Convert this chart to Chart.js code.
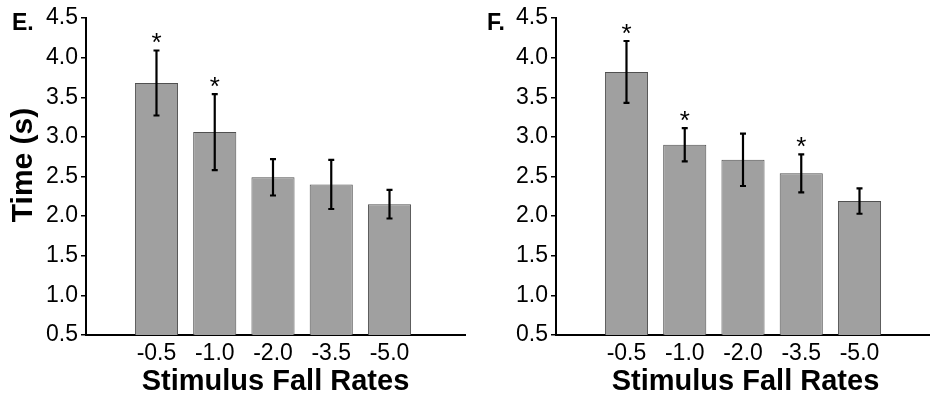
<!DOCTYPE html>
<html>
<head>
<meta charset="utf-8">
<script src="https://cdn.jsdelivr.net/npm/chart.js@4.4.1/dist/chart.umd.min.js"></script>
<style>
  body { margin: 0; background: #fff; }
  #wrap { position: relative; width: 930px; height: 399px; overflow: hidden; }
  .panel { position: absolute; top: 0; }
</style>
</head>
<body>
<div id="wrap">
  <div class="panel" style="left:0"><canvas id="chartE" width="470" height="399"></canvas></div>
  <div class="panel" style="left:470px"><canvas id="chartF" width="470" height="399"></canvas></div>
</div>
<script>
// categories and tick labels
var fallRates = ['-0.5', '-1.0', '-2.0', '-3.5', '-5.0'];
var yTickValues = [0.5, 1.0, 1.5, 2.0, 2.5, 3.0, 3.5, 4.0, 4.5];

// panel E
var meansE = [3.68, 3.06, 2.49, 2.40, 2.15];
var errE = [0.41, 0.48, 0.23, 0.31, 0.18];
var sigE = [true, true, false, false, false];

// panel F
var meansF = [3.82, 2.90, 2.71, 2.54, 2.19];
var errF = [0.39, 0.21, 0.33, 0.24, 0.16];
var sigF = [true, true, false, true, false];

var FONT = "'Liberation Sans', Arial, sans-serif";

// error bars + asterisks, drawn from the y scale
var errorBarPlugin = {
  id: 'errorBars',
  afterDatasetsDraw: function (chart, args, opts) {
    var ctx = chart.ctx;
    var y = chart.scales.y;
    var meta = chart.getDatasetMeta(0);
    var data = chart.data.datasets[0].data;
    ctx.save();
    ctx.strokeStyle = '#000';
    ctx.fillStyle = '#000';
    ctx.lineWidth = 2.2;
    meta.data.forEach(function (bar, i) {
      var top = y.getPixelForValue(data[i].y + opts.errs[i]);
      var bot = y.getPixelForValue(data[i].y - opts.errs[i]);
      ctx.beginPath();
      ctx.moveTo(bar.x, top);
      ctx.lineTo(bar.x, bot);
      ctx.moveTo(bar.x - 3, top);
      ctx.lineTo(bar.x + 3, top);
      ctx.moveTo(bar.x - 3, bot);
      ctx.lineTo(bar.x + 3, bot);
      ctx.stroke();
      if (opts.sig[i]) {
        ctx.font = '26px ' + FONT;
        ctx.textAlign = 'center';
        ctx.textBaseline = 'alphabetic';
        ctx.fillText('*', bar.x, top + 1);
      }
    });
    ctx.restore();
  }
};

// panel letter and rotated y title
var labelPlugin = {
  id: 'panelLabels',
  afterDraw: function (chart, args, opts) {
    var ctx = chart.ctx;
    ctx.save();
    ctx.fillStyle = '#000';
    ctx.font = 'bold 23px ' + FONT;
    ctx.textAlign = 'left';
    ctx.textBaseline = 'alphabetic';
    ctx.fillText(opts.letter, opts.letterX, 30);
    if (opts.yTitle) {
      ctx.translate(24, 165);
      ctx.rotate(-Math.PI / 2);
      ctx.font = 'bold 30px ' + FONT;
      ctx.textAlign = 'center';
      ctx.textBaseline = 'middle';
      ctx.fillText(opts.yTitle, 0, 0);
    }
    ctx.restore();
  }
};

function makeChart(id, means, errs, sig, letter, letterX, yTitle) {
  var ctx = document.getElementById(id).getContext('2d');
  return new Chart(ctx, {
    type: 'bar',
    data: {
      datasets: [{
        data: means.map(function (m, i) { return { x: i + 1, y: m }; }),
        backgroundColor: '#a0a0a0',
        borderColor: '#505050',
        borderWidth: 1,
        barPercentage: 0.74,
        categoryPercentage: 1
      }]
    },
    options: {
      responsive: false,
      animation: false,
      layout: { padding: { left: 0, right: 5, top: 18, bottom: 0 } },
      plugins: {
        legend: { display: false },
        tooltip: { enabled: false },
        errorBars: { errs: errs, sig: sig },
        panelLabels: { letter: letter, letterX: letterX, yTitle: yTitle }
      },
      scales: {
        x: {
          type: 'linear',
          offset: false,
          min: -0.21,
          max: 6.296,
          afterBuildTicks: function (s) {
            s.ticks = fallRates.map(function (_, i) { return { value: i + 1 }; });
          },
          afterFit: function (s) { s.height = 64; },
          grid: { display: false, drawTicks: false, offset: false },
          border: { color: '#000', width: 2 },
          ticks: {
            padding: 5,
            color: '#000',
            font: { family: FONT, size: 23 },
            callback: function (v) { return fallRates[v - 1]; }
          },
          title: {
            display: true,
            text: 'Stimulus Fall Rates',
            color: '#000',
            padding: 0,
            font: { family: FONT, size: 29, weight: 'bold', lineHeight: 1.14 }
          }
        },
        y: {
          min: 0.5,
          max: 4.5,
          afterBuildTicks: function (s) {
            s.ticks = yTickValues.map(function (v) { return { value: v }; });
          },
          afterFit: function (s) { s.width = 86; },
          grid: { drawOnChartArea: false, drawTicks: true, tickLength: 5, color: '#000', lineWidth: 1.5 },
          border: { color: '#000', width: 2 },
          ticks: {
            padding: 3,
            color: '#000',
            font: { family: FONT, size: 23 },
            callback: function (v) { return v.toFixed(1); }
          }
        }
      }
    },
    plugins: [errorBarPlugin, labelPlugin]
  });
}

makeChart('chartE', meansE, errE, sigE, 'E.', 12, 'Time (s)');
makeChart('chartF', meansF, errF, sigF, 'F.', 17, null);
</script>
</body>
</html>
